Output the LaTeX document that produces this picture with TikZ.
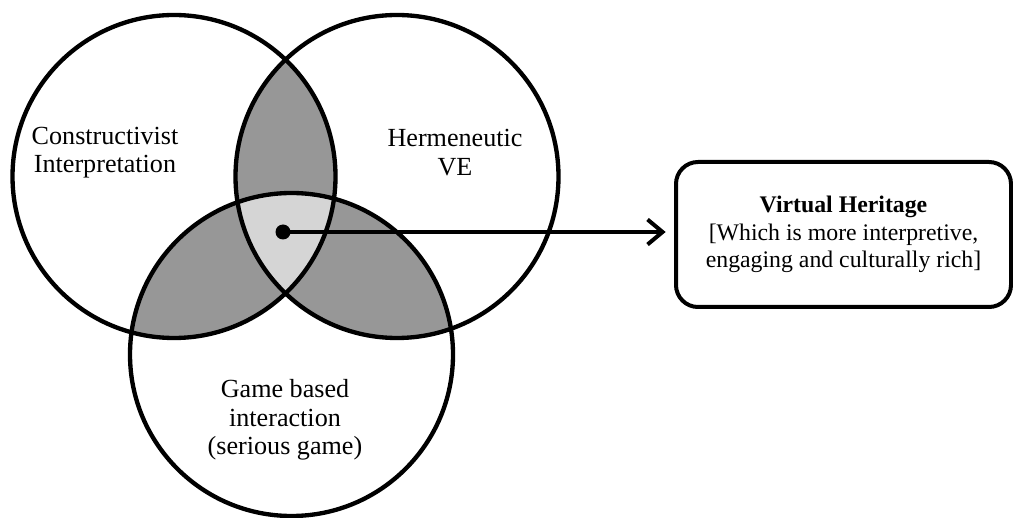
\documentclass[tikz,border=0pt]{standalone}
\usepackage{fontspec}
\setmainfont{Liberation Serif}
\usetikzlibrary{positioning,arrows.meta,calc}
\definecolor{LensGray}{HTML}{979797}
\definecolor{CoreGray}{HTML}{D5D5D5}
\newcommand{\vrad}{4.845}

\begin{document}
\begin{tikzpicture}[
  ring/.style   = {draw=black, line width=1.3mm},
  lbl/.style    = {align=center, font=\fontsize{22.3}{24.3}\selectfont},
  heritage/.style = {draw=black, line width=1.2mm, rounded corners=0.66cm,
                    minimum width=10.05cm, minimum height=4.35cm,
                    align=center, font=\fontsize{20.3}{23.3}\selectfont},
  arr/.style    = {-{Straight Barb[length=0.45cm, width=0.75cm]}, line width=1.2mm}
]
  \useasboundingbox (0,0) rectangle (30.39,-15.54);

  \coordinate (cL) at (5.22,-5.295);
  \coordinate (cR) at (11.91,-5.295);
  \coordinate (cB) at (8.745,-10.635);

  % pairwise overlaps
  \begin{scope}
    \clip (cL) circle (\vrad);
    \fill[LensGray] (cR) circle (\vrad);
    \fill[LensGray] (cB) circle (\vrad);
  \end{scope}
  \begin{scope}
    \clip (cR) circle (\vrad);
    \fill[LensGray] (cB) circle (\vrad);
  \end{scope}
  % common core
  \begin{scope}
    \clip (cL) circle (\vrad);
    \clip (cR) circle (\vrad);
    \fill[CoreGray] (cB) circle (\vrad);
  \end{scope}

  \draw[ring] (cL) circle (\vrad);
  \draw[ring] (cR) circle (\vrad);
  \draw[ring] (cB) circle (\vrad);

  \node[lbl] (constr) at (3.15,-4.58)  {Constructivist\\Interpretation};
  \node[lbl] (herm)   at (13.65,-4.58) {Hermeneutic\\VE};
  \node[lbl] (game)   at (8.55,-12.6)  {Game based\\interaction\\(serious game)};

  \node[heritage] (vh) at (25.305,-7.035)
    {\textbf{Virtual Heritage}\\{}[Which is more interpretive,\\engaging and culturally rich]};

  \node[circle, fill=black, inner sep=0pt, minimum size=0.45cm] (dot) at (8.49,-6.96) {};
  \draw[arr, shorten >=0.25cm] (dot.center) -- (dot -| vh.west);
\end{tikzpicture}
\end{document}
